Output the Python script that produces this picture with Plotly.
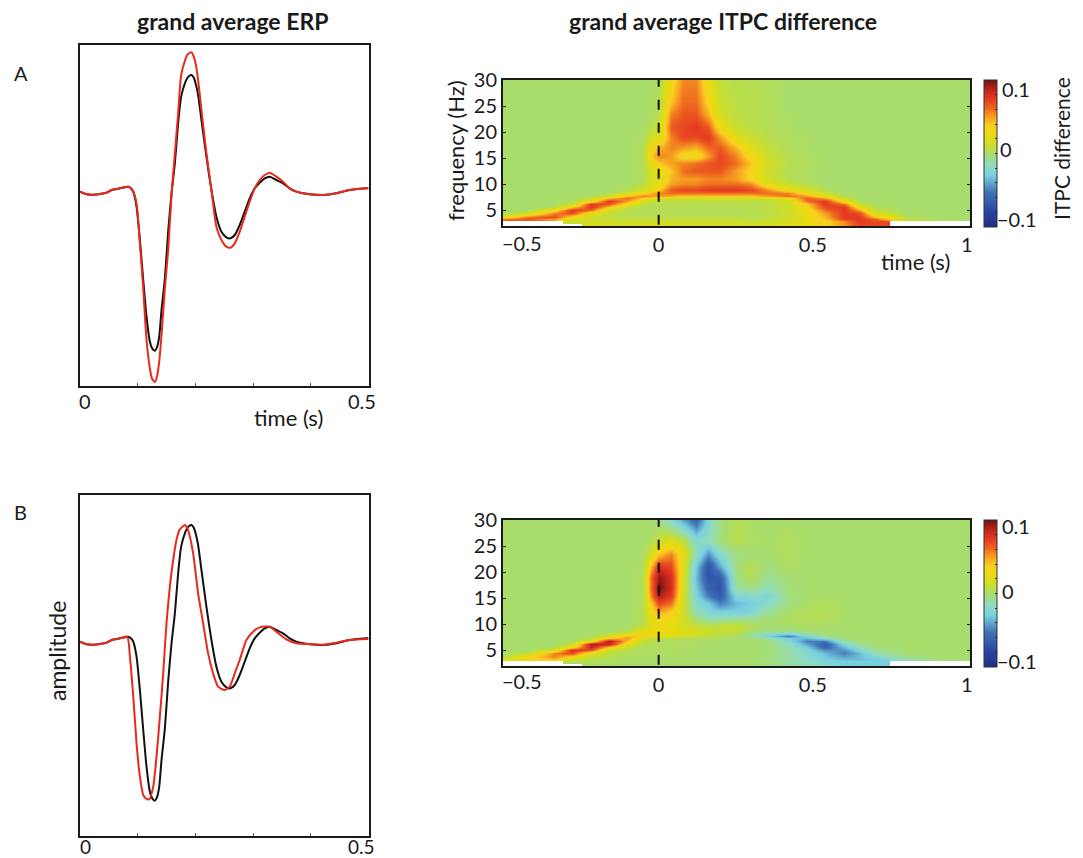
import plotly.graph_objects as go

W, H = 1083, 858
N = None

# ---------- ERP values (arbitrary amplitude units) ----------
erp_time = [0, .0115, .0231, .0346, .0461, .0548, .0692, .0836, .0894, .0923, .098, .1038, .1096, .1153, .1211, .1251, .1298,
            .1338, .1373, .1413, .1471, .1528, .1586, .1644, .1701, .1753, .1822, .1857, .1892, .1932, .1972, .2014, .2047,
            .2105, .2191, .2278, .2364, .2451, .2537, .2607, .2682, .2768, .2855, .2941, .3028, .3114, .3201, .3287,
            .3403, .3518, .3633, .3749, .3864, .3979, .421, .4441, .4671, .496, .5]
erp_black = [0, -8, -9, -7, -3, 5, 10, 15, 8, 0, -45, -145, -265, -375, -450, -470, -477,
             -465, -435, -355, -260, -120, -5, 85, 205, 285, 327, 340, 347, 350, 342, 318, 290,
             215, 105, 5, -75, -120, -137, -140, -130, -100, -60, -20, 10, 27, 40, 45,
             35, 25, 10, 0, -5, -8, -10, -5, 5, 10, 10]
erp_red_a = [0, -8, -9, -7, -3, 5, 10, 15, 8, 0, -35, -155, -290, -445, -530, -562, -571,
             -552, -510, -430, -290, -175, -10, 115, 235, 350, 395, 410, 416, 418, 405, 375, 335,
             245, 115, 5, -105, -145, -165, -168, -155, -120, -75, -30, 10, 35, 50, 57,
             45, 30, 10, 0, -5, -8, -10, -5, 5, 10, 10]
erp_time_b = [0, .0115, .0231, .0346, .0461, .0548, .0692, .0819, .0865, .0923, .098, .1038, .1096, .1142, .12, .1269,
              .1326, .1384, .1442, .1499, .1557, .1615, .1672, .173, .1776, .1817, .1857, .1874, .1961, .2047, .2134, .222, .2307,
              .2393, .2509, .2595, .2682, .2768, .2884, .2999, .3114, .3287, .3403, .3576, .3749, .3922, .421, .4441,
              .4671, .496, .5]
erp_red_b = [0, -8, -9, -7, -3, 5, 10, 15, -45, -165, -305, -405, -460, -470, -473, -435,
             -345, -225, -95, 55, 165, 245, 305, 337, 345, 350, 342, 335, 265, 145, 55, -35, -95,
             -135, -145, -135, -95, -55, 5, 30, 43, 45, 30, 7, -5, -7, -9, -3,
             5, 8, 8]

# ---------- ITPC difference, in hundredths; rows bottom to top ----------
itpc_time = [-.5, -.42, -.34, -.28, -.22, -.16, -.1, -.05, -.025, 0, .04, .08, .12, .16, .2, .25, .3, .35, .42, .48,
             .54, .6, .65, .7, .8, .9, 1]
itpc_freq = [2, 2.9, 3.3, 3.8, 4.4, 5, 5.6, 6.2, 6.8, 7.3, 7.8, 8.3, 9, 10, 11, 12.5, 14, 15.5, 17, 19, 21, 23.5, 26, 30]
itpc_a = [
    [N,N,N,N,2,2,2,2,2,2,2,2,2,2,2,2,2,2,2.5,2.5,3.5,5,7,7,N,N,N],
    [N,N,N,1,1.5,1.3,1.2,1.2,1.2,1.2,1.2,1.2,1.2,1.2,1.2,1.2,1,1.2,1.5,2.5,3.5,5.5,7.5,7,N,N,N],
    [6,6.5,5,2,1.2,1,.8,.8,.8,.8,.8,.8,.8,.8,.8,.8,.6,.8,1.2,2.5,4,7,7.5,6.5,1,.2,0],
    [3,6,7,3,1.2,.7,.5,.5,.5,.5,.5,.5,.5,.5,.5,.5,.5,.6,1.2,2.5,4.5,7.5,7.5,4.5,.4,0,0],
    [0,1.5,5.5,7,2.5,.8,.4,.4,.4,.4,.4,.4,.4,.4,.4,.4,.5,.6,1.2,2.5,5,7.5,7,2,.1,0,0],
    [0,0,3,7.5,6,1.5,.5,.4,.4,.4,.4,.4,.4,.4,.4,.4,.5,.6,1.2,3,6,7.5,5,.8,0,0,0],
    [0,0,.3,4,7.5,4,.8,.4,.4,.4,.4,.4,.4,.4,.4,.5,.5,.6,1.2,3.5,7,7.5,3,.3,0,0,0],
    [0,0,0,1,7.5,6.5,3,.8,.5,.4,.4,.4,.4,.4,.4,.5,.5,.6,1.2,4,7.5,6,1.2,.1,0,0,0],
    [0,0,0,.2,2.5,7.5,5,1.5,1,.7,.7,.7,.7,.7,.7,.7,.7,.8,1.5,6,7.5,3,.3,0,0,0,0],
    [0,0,0,0,.8,4.5,6,4,2.5,1.5,1.2,1.3,1.3,1.3,1.3,1.3,1.3,1.5,3,6.5,5,1.2,0,0,0,0,0],
    [0,0,0,0,.2,1,4.5,5.5,5.2,5,4.5,4,4,4,4,4,4,5,6,5,2.5,.3,0,0,0,0,0],
    [0,0,0,0,0,.3,1.5,3.5,4.5,5.5,6,6,6,6,6,6,6,6,5.5,3,1,0,0,0,0,0,0],
    [0,0,0,0,0,0,.4,1.5,2.5,4,6.5,7,7,7.5,7.5,7.5,7,5.5,3,1.5,.3,0,0,0,0,0,0],
    [0,0,0,0,0,0,.1,.5,1.8,2.5,5,5.5,5.5,6,6,6,5.5,2.5,1,.5,0,0,0,0,0,0,0],
    [0,0,0,0,0,0,0,.3,1.5,2,4.5,5,5,5.5,5.5,5,3.5,1.5,.4,.1,0,0,0,0,0,0,0],
    [0,0,0,0,0,0,0,.3,1.5,2.5,4,6,6.5,6.5,6.5,5,3.5,1.2,.4,.2,0,0,0,0,0,0,0],
    [0,0,0,0,0,0,0,.3,2.5,4,5,5.5,6,6.5,7,6,4,1.5,.4,.3,0,0,0,0,0,0,0],
    [0,0,0,0,0,0,0,.3,4,5.5,5,3,2.5,5,7,5.5,3,1.2,.4,.2,0,0,0,0,0,0,0],
    [0,0,0,0,0,0,0,.3,3,4.5,5.5,5,4.5,6,6.5,4.5,2,.9,.3,.1,0,0,0,0,0,0,0],
    [0,0,0,0,0,0,0,.2,1.2,2,5.5,7,7,7.5,5,2.2,1,.5,.2,.1,0,0,0,0,0,0,0],
    [0,0,0,0,0,0,0,.1,.4,1,6.5,7,7.5,6.5,2.8,1,.6,.4,.1,0,0,0,0,0,0,0,0],
    [0,0,0,0,0,0,0,0,.1,.5,5.5,6.5,6.5,4.5,1.5,.6,.5,.4,.1,0,0,0,0,0,0,0,0],
    [0,0,0,0,0,0,0,0,.1,.3,4,6,6,3.5,1,.6,.5,.4,0,0,0,0,0,0,0,0,0],
    [0,0,0,0,0,0,0,0,.1,.2,3,5.5,5.5,2.5,.8,.5,.4,.3,0,0,0,0,0,0,0,0,0],
]
itpc_b = [
    [N,N,N,N,0,0,0,0,0,0,0,0,0,0,0,0,0,-.3,-1,-1.5,-2,-3,-3,-3,N,N,N],
    [N,N,N,.3,.3,.1,0,0,0,0,0,0,0,0,0,0,0,-.3,-1,-1.5,-2.5,-3,-3,-3,N,N,N],
    [2,3,4,1.5,.7,.3,.2,.1,.1,.1,.1,0,0,0,0,0,0,-.3,-1,-2,-3,-3.5,-3.5,-3,-1.5,-.3,0],
    [.5,3.5,5.5,3,1,.4,.2,.1,.1,.1,.1,.1,0,0,0,0,0,-.3,-1,-2,-3,-4,-3.5,-2.5,-.5,-.1,0],
    [0,1,5.5,7,2,.6,.3,.2,.2,.2,.1,.1,0,0,0,0,0,-.2,-1,-2,-3.5,-5,-3.5,-1.5,-.2,0,0],
    [0,0,1.5,8,6.5,1.3,.5,.2,.2,.2,.2,.1,.1,0,0,0,0,-.2,-1,-2.5,-4.5,-4.5,-2.5,-.8,0,0,0],
    [0,0,.2,3,8.5,4,.8,.3,.2,.2,.2,.1,.1,0,0,0,0,-.2,-1.2,-3,-6,-3.5,-1.5,-.4,0,0,0],
    [0,0,0,.8,9,8.5,2,.5,.4,.3,.2,.2,.1,0,0,0,0,-.2,-1.5,-4,-6.5,-2.5,-.8,-.2,0,0,0],
    [0,0,0,.1,2.5,9,4,.8,.5,.3,.3,.2,.1,0,0,0,0,-.3,-2,-5,-5,-1,-.2,0,0,0,0],
    [0,0,0,0,.5,4,5,1.5,.8,.5,.4,.4,.3,.2,.2,0,-.2,-1,-3,-3.5,-2,-.3,0,0,0,0,0],
    [0,0,0,0,.1,1.5,4.5,3.5,3,2.5,2,1.5,1,.8,.6,0,-1,-2.5,-5,-2.5,-.5,0,0,0,0,0,0],
    [0,0,0,0,0,.3,1.5,3,3,3,2.5,2,1.5,1,.8,.5,-.5,-1.5,-2,-.8,-.2,0,0,0,0,0,0],
    [0,0,0,0,0,0,.2,2,2.5,3,2.5,2,1.5,1.2,1,1,.2,-.3,-.3,-.1,0,0,0,0,0,0,0],
    [0,0,0,0,0,0,.1,.5,2,3,2.5,1.5,.6,.3,.5,.8,.2,-.1,0,.3,0,0,0,0,0,0,0],
    [0,0,0,0,0,0,0,.4,2.5,3.5,3,1.5,-.2,-1.2,-1,-.8,-.6,-.2,.2,.3,.4,0,0,0,0,0,0],
    [0,0,0,0,0,0,0,.4,3,5,4,1.2,-1.5,-2.5,-3,-3,-2.5,-1,.1,.3,.4,.1,0,0,0,0,0],
    [0,0,0,0,0,0,0,.3,4,7,6,1.5,-2,-3,-5,-3.5,-3,-2,-.5,.1,.3,0,0,0,0,0,0],
    [0,0,0,0,0,0,0,.3,5.5,9,7.5,1.5,-2.5,-5,-6.5,-2.5,-2,-2.5,-.4,0,0,0,0,0,0,0,0],
    [0,0,0,0,0,0,0,.3,6,10,8,1.8,-3,-6,-7,-1,-.5,-1.5,-.2,0,0,0,0,0,0,0,0],
    [0,0,0,0,0,0,0,.3,6,9.5,8,2,-3.5,-7,-6.5,-.5,.4,-.7,-.1,0,0,0,0,0,0,0,0],
    [0,0,0,0,0,0,0,.2,4.5,8,7,2.2,-3,-7,-4,-.3,.5,-.3,.2,0,0,0,0,0,0,0,0],
    [0,0,0,0,0,0,0,.1,1.5,4,5.5,2.5,-1.5,-4.5,-2,-.4,-.2,-.1,.2,0,0,0,0,0,0,0,0],
    [0,0,0,0,0,0,0,0,.2,1,2,.8,-2,-1.5,-.3,.5,.2,0,.3,0,0,0,0,0,0,0,0],
    [0,0,0,0,0,0,0,0,-.1,-.5,-2,-4,-6,-2.5,-.3,.4,.1,0,0,0,0,0,0,0,0,0,0],
]
for table in (itpc_a, itpc_b):
    assert len(table) == len(itpc_freq) and all(len(r) == len(itpc_time) for r in table)

erp_ticks = [.1, .2, .3, .4]
freq_ticks = [5, 10, 15, 20, 25, 30]
time_ticks = [-.5, 0, .5, 1]
time_tick_text = ["", "0", "0.5", "1"]
cbar_ticks = [-.08, -.06, -.04, -.02, 0, .02, .04, .06, .08]

colors = [[0, "#1f2d85"], [.11, "#2a45a5"], [.235, "#3f72b5"], [.35, "#78cfe0"], [.42, "#8fdcc0"], [.5, "#a8dd6c"],
          [.55, "#c8de30"], [.62, "#e6dc10"], [.69, "#f9d020"], [.755, "#f59a20"], [.82, "#ec5a20"], [.89, "#e03020"],
          [.955, "#a82018"], [1, "#6a1410"]]

FONT = "Lato"
INK = "#1a1a1a"
fig = go.Figure()

def dx(a, b):
    return [a / W, b / W]

def dy(top, bottom):
    return [1 - bottom / H, 1 - top / H]

def hundredths(table):
    return [[None if v is None else v / 100 for v in row] for row in table]

# ERP panels
for idx, (top, bottom, tx, red) in enumerate([(45, 386, erp_time, erp_red_a), (495, 836, erp_time_b, erp_red_b)]):
    n = idx * 2 + 1
    xa, ya = f"x{n if n > 1 else ''}", f"y{n if n > 1 else ''}"
    fig.add_trace(go.Scatter(x=erp_time, y=erp_black, mode="lines", line=dict(color="#111111", width=2, shape="spline", smoothing=.6),
                             xaxis=xa, yaxis=ya, showlegend=False))
    fig.add_trace(go.Scatter(x=tx, y=red, mode="lines", line=dict(color="#e8291c", width=2, shape="spline", smoothing=.6),
                             xaxis=xa, yaxis=ya, showlegend=False))
    fig.update_layout({
        f"xaxis{n if n > 1 else ''}": dict(domain=dx(80, 368.5), range=[0, .5], anchor=ya, showgrid=False, zeroline=False,
                                           showline=True, mirror=True, linecolor=INK, linewidth=2, ticks="inside",
                                           ticklen=3, tickwidth=1, tickcolor="#555555", tickvals=erp_ticks,
                                           showticklabels=False),
        f"yaxis{n if n > 1 else ''}": dict(domain=dy(top, bottom), range=[-583, 440], anchor=xa, showgrid=False,
                                           zeroline=False, showline=True, mirror=True, linecolor=INK, linewidth=2,
                                           showticklabels=False, ticks=""),
    })

# ITPC panels
for idx, (top, bottom, table) in enumerate([(80, 226, itpc_a), (520, 666, itpc_b)]):
    n = idx * 2 + 2
    xa, ya = f"x{n}", f"y{n}"
    fig.add_trace(go.Heatmap(x=itpc_time, y=itpc_freq, z=hundredths(table), zmin=-.1, zmax=.1, zsmooth="best",
                             colorscale=colors, xaxis=xa, yaxis=ya, hoverongaps=False,
                             colorbar=dict(x=984 / W, xanchor="left", xpad=0, ypad=0, y=1 - top / H, yanchor="top",
                                           thicknessmode="pixels", thickness=13, lenmode="pixels", len=147,
                                           outlinecolor="#333333", outlinewidth=1, tickmode="array",
                                           tickvals=cbar_ticks, ticktext=[""] * len(cbar_ticks), ticks="inside",
                                           ticklen=2, tickcolor="#222222", tickwidth=1)))
    fig.add_trace(go.Scatter(x=[0, 0], y=[30.6, 2], mode="lines", xaxis=xa, yaxis=ya, showlegend=False,
                             line=dict(color="#111111", width=2, dash="10px,13px")))
    fig.update_layout({
        f"xaxis{n}": dict(domain=dx(503, 970), range=[-.505, 1.01], anchor=ya, showgrid=False, zeroline=False,
                          showline=True, mirror=True, linecolor=INK, linewidth=2, ticks="", tickvals=time_ticks,
                          ticktext=time_tick_text, tickfont=dict(family=FONT, size=20, color=INK)),
        f"yaxis{n}": dict(domain=dy(top, bottom), range=[2, 30], anchor=xa, showgrid=False, zeroline=False,
                          showline=True, mirror="ticks", linecolor=INK, linewidth=2, ticks="inside", ticklen=3,
                          tickwidth=1, tickcolor=INK, tickvals=freq_ticks,
                          tickfont=dict(family=FONT, size=20, color=INK)),
    })

labels = [
    ("grand average ERP", 232, 21, 23, True, 0), ("grand average ITPC difference", 723, 21, 23, True, 0),
    ("A", 21, 73, 20, False, 0), ("B", 20, 512, 20, False, 0),
    ("0", 85, 401, 20, False, 0), ("0.5", 362, 401, 20, False, 0), ("time (s)", 288, 417, 22, False, 0),
    ("0", 85, 846, 19, False, 0), ("0.5", 362, 846, 19, False, 0),
    ("amplitude", 57, 651, 23, False, -90),
    ("frequency (Hz)", 456, 151, 22, False, -90), ("ITPC difference", 1062, 149, 21, False, -90),
    ("time (s)", 915, 261, 22, False, 0),
    ("\u22120.5", 522, 243, 20, False, 0), ("\u22120.5", 522, 681, 20, False, 0),
    ("0.1", 1016, 89, 20, False, 0), ("0", 1006, 149, 20, False, 0), ("\u22120.1", 1017, 219, 20, False, 0),
    ("0.1", 1016, 526, 20, False, 0), ("0", 1008, 591, 20, False, 0), ("\u22120.1", 1017, 661, 20, False, 0),
]
for text, px, py, size, bold, rot in labels:
    fig.add_annotation(text=f"<b>{text}</b>" if bold else text, x=px / W, y=1 - py / H, xref="paper", yref="paper",
                       showarrow=False, xanchor="center", yanchor="middle", textangle=rot,
                       font=dict(family=FONT, size=size, color=INK))

fig.update_layout(width=W, height=H, margin=dict(l=0, r=0, t=0, b=0, autoexpand=False), autosize=False,
                  paper_bgcolor="white", plot_bgcolor="white", showlegend=False, font=dict(family=FONT, color=INK))
fig.write_html("out.html", config={"displayModeBar": False}, post_script="document.body.style.margin='0';")
